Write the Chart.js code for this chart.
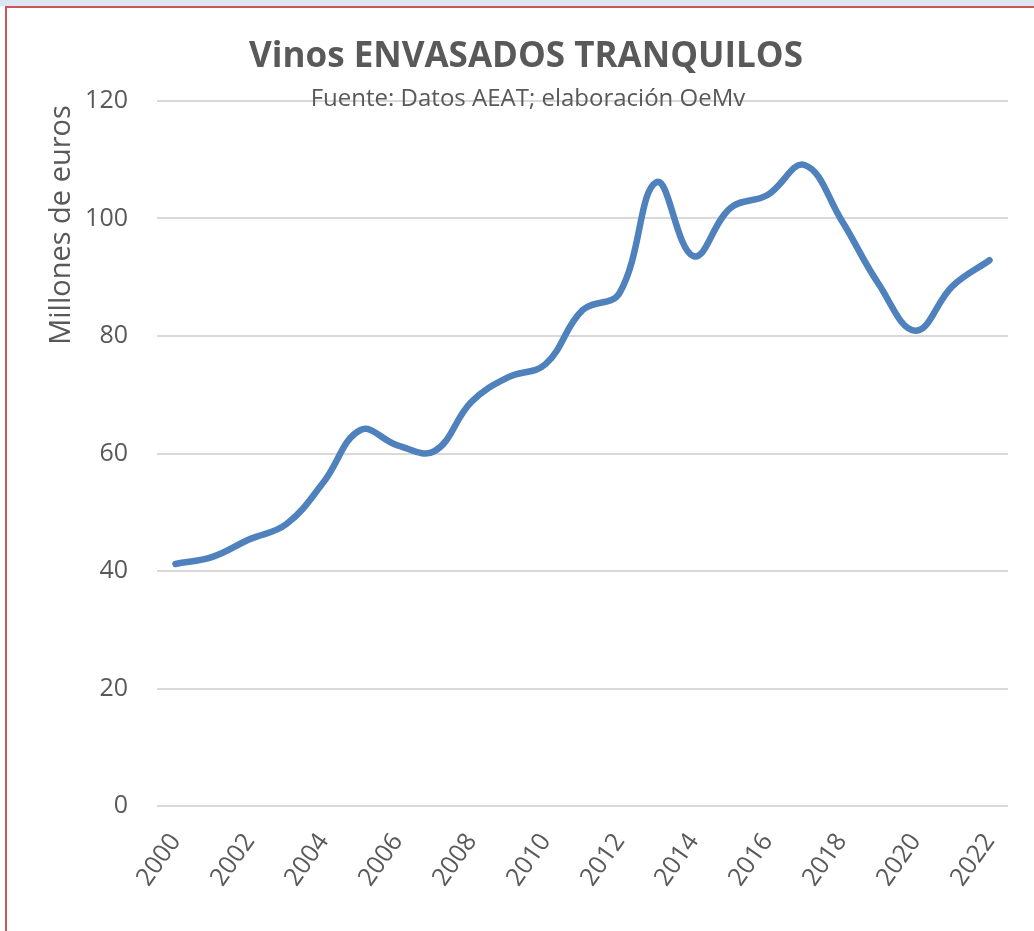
<!DOCTYPE html>
<html>
<head>
<meta charset="utf-8">
<script src="https://cdn.jsdelivr.net/npm/chart.js@4.4.0/dist/chart.umd.min.js"></script>
<style>
    html, body { margin: 0; padding: 0; background: #fff; }
    body { width: 1034px; height: 931px; position: relative; overflow: hidden; }
    .strip { position: absolute; left: 0; top: 0; width: 1034px; height: 6px; background: #dce6f2; }
    .frame { position: absolute; left: 5px; top: 6px; width: 1040px; height: 940px;
             border-top: 2px solid #cc5555; border-left: 2px solid #cc5555; }
    canvas { position: absolute; left: 0; top: 0; }
</style>
</head>
<body>
<div class="strip"></div>
<div class="frame"></div>
<canvas id="chart" width="1034" height="931"></canvas>
<script>
const years = ['2000', '2001', '2002', '2003', '2004', '2005', '2006', '2007', '2008', '2009', '2010', '2011',
    '2012', '2013', '2014', '2015', '2016', '2017', '2018', '2019', '2020', '2021', '2022'];
const valores = [41.2, 42.4, 45.4, 48.0, 55.1, 64.0, 61.4, 60.4, 68.8, 73.0, 75.2, 84.4,
    87.3, 106.2, 93.6, 101.8, 104.0, 109.1, 99.7, 88.9, 80.9, 88.5, 92.9];

const titulo = 'Vinos ENVASADOS TRANQUILOS';
const subtitulo = 'Fuente: Datos AEAT; elaboración OeMv';
const tituloEje = 'Millones de euros';

const textColor = '#595959';
const fontFamily = '"Open Sans", sans-serif';

// Title, subtitle and axis title drawn by hand so they can overlap the plot like the original
const textos = {
    id: 'textos',
    afterDraw(chart) {
        const ctx = chart.ctx;
        ctx.save();
        ctx.fillStyle = textColor;
        ctx.textAlign = 'center';
        ctx.textBaseline = 'middle';
        ctx.font = 'bold 35px ' + fontFamily;
        ctx.fillText(titulo, 526, 57);
        ctx.font = '24px ' + fontFamily;
        ctx.fillText(subtitulo, 528, 99);
        ctx.translate(62, 225);
        ctx.rotate(-Math.PI / 2);
        ctx.font = '29px ' + fontFamily;
        ctx.fillText(tituloEje, 0, 0);
        ctx.restore();
    }
};

new Chart(document.getElementById('chart'), {
    type: 'line',
    data: {
        labels: years,
        datasets: [{
            data: valores,
            borderColor: '#4f81bd',
            borderWidth: 6.5,
            borderCapStyle: 'round',
            borderJoinStyle: 'round',
            pointRadius: 0,
            tension: 0.4,
            fill: false
        }]
    },
    options: {
        responsive: false,
        animation: false,
        layout: { padding: { top: 101, right: 26, left: 0, bottom: 0 } },
        plugins: {
            legend: { display: false },
            tooltip: { enabled: false }
        },
        scales: {
            x: {
                offset: true,
                grid: { display: false },
                border: { display: false },
                ticks: {
                    autoSkip: false,
                    maxRotation: 55,
                    minRotation: 55,
                    color: textColor,
                    font: { family: fontFamily, size: 25 },
                    padding: 14,
                    callback: function (v, i) { return i % 2 === 0 ? this.getLabelForValue(v) : ''; }
                },
                afterFit: s => { s.height = 125; }
            },
            y: {
                min: 0,
                max: 120,
                grid: { color: '#d9d9d9', lineWidth: 2, drawTicks: false },
                border: { display: false },
                ticks: {
                    stepSize: 20,
                    color: textColor,
                    font: { family: fontFamily, size: 25 },
                    padding: 29
                },
                afterFit: s => { s.width = 157; }
            }
        }
    },
    plugins: [textos]
});
</script>
</body>
</html>
